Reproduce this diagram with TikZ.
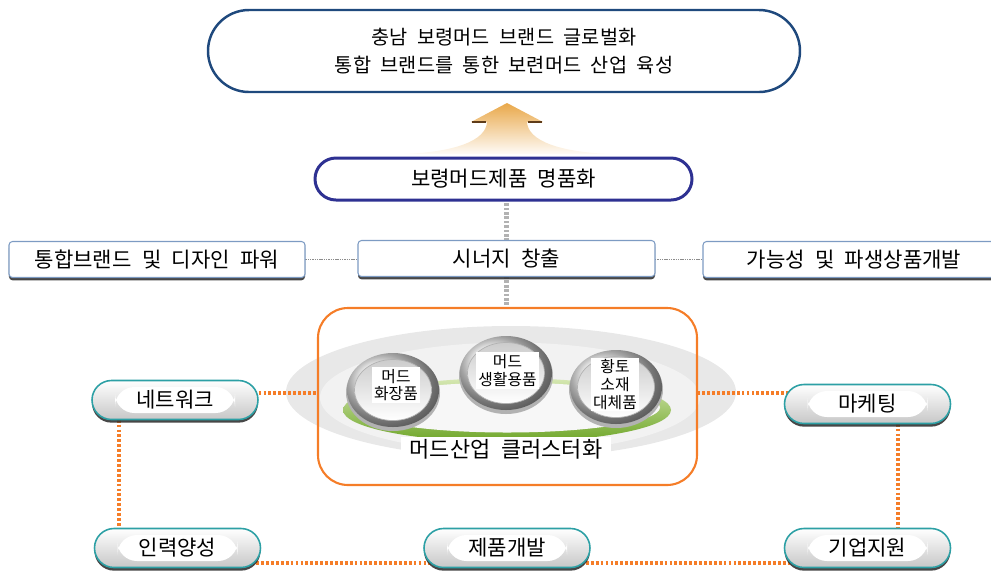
\documentclass[tikz,border=0pt]{standalone}
\usepackage{fontspec}
\setmainfont[WordSpace=2.2]{Noto Sans CJK KR}
\usetikzlibrary{shadows}

\definecolor{goalnavy}{RGB}{31,73,125}
\definecolor{brandnavy}{RGB}{46,49,146}
\definecolor{steel}{RGB}{125,155,195}
\definecolor{orangeline}{RGB}{245,125,40}
\definecolor{tealline}{RGB}{45,160,165}
\definecolor{arrowgold}{RGB}{233,168,74}
\definecolor{notch}{RGB}{95,60,25}
\definecolor{ringgreen}{RGB}{110,166,40}
\definecolor{ringlight}{RGB}{215,232,180}

\pgfdeclarelayer{background}
\pgfdeclarelayer{links}
\pgfsetlayers{background,links,main}

\begin{document}
\begin{tikzpicture}[
		every node/.style={font=\fontsize{12}{15}\selectfont},
		panel/.style={draw=steel, line width=0.6pt, rounded corners=2pt, fill=white,
				minimum height=0.72cm,
				drop shadow={shadow xshift=0pt, shadow yshift=-1.6pt, fill=black!80, opacity=0.9}},
		hub/.style={draw=tealline, line width=0.9pt, rounded corners=0.39cm,
				top color=white, bottom color=black!22,
				minimum width=3.32cm, minimum height=0.78cm,
				drop shadow={shadow xshift=0pt, shadow yshift=-1.8pt, fill=black!80, opacity=0.9},
				path picture={\fill[white] ([xshift=-1.2cm,yshift=-0.26cm]path picture bounding box.center)
						rectangle ([xshift=1.2cm,yshift=0.26cm]path picture bounding box.center);}},
		balltext/.style={fill=white, inner sep=1.2pt, align=center, font=\fontsize{9}{10}\selectfont},
		linkgray/.style={draw=black!30, line width=2.4pt, dash pattern=on 1.5pt off 1pt},
		linkthin/.style={draw=black!45, line width=0.5pt, dash pattern=on 0.8pt off 0.5pt},
		linkorange/.style={draw=orangeline, line width=2.2pt, dash pattern=on 1.6pt off 1.2pt},
	]
	\useasboundingbox (0,0) rectangle (19.82,-11.42);

	\node[draw=goalnavy, line width=1.4pt, rounded corners=0.82cm, fill=white,
		minimum width=11.84cm, minimum height=1.64cm, align=center,
		font=\fontsize{11.2}{15.5}\selectfont] (goal) at (10.08,-1.02)
		{충남 보령머드 브랜드 글로벌화\\통합 브랜드를 통한 보련머드 산업 육성};

	% golden arrow rising out of the brand box
	\shade[top color=arrowgold, bottom color=arrowgold!4]
		(10.14,-2.06) -- (10.86,-2.44) -- (10.54,-2.44)
		.. controls (10.56,-2.82) and (11.2,-3.04) .. (12.2,-3.08)
		-- (8.08,-3.08)
		.. controls (9.08,-3.04) and (9.72,-2.82) .. (9.74,-2.44)
		-- (9.42,-2.44) -- cycle;
	\draw[notch, line width=1.6pt] (9.44,-2.44) -- (9.72,-2.44) (10.56,-2.44) -- (10.84,-2.44);

	\node[draw=brandnavy, line width=1.7pt, rounded corners=0.42cm, fill=white,
		minimum width=7.54cm, minimum height=0.84cm] (brand) at (10.07,-3.58) {보령머드제품 명품화};

	\node[panel, minimum width=5.94cm] (synergy) at (10.13,-5.17) {시너지 창출};
	\node[panel, minimum width=5.92cm] (design) at (3.14,-5.19) {통합브랜드 및 디자인 파워};
	\node[panel, minimum width=6.04cm] (derive) at (17.08,-5.19) {가능성 및 파생상품개발};

	% cluster backdrop
	\begin{pgfonlayer}{background}
		\fill[black!9] (10.22,-7.84) ellipse (4.5 and 1.32);
		\fill[black!5] (10.2,-7.95) ellipse (3.8 and 1.1);
		\shade[top color=ringlight, bottom color=ringgreen] (10.14,-8.2) ellipse (3.28 and 0.64);
		\fill[black!3] (10.14,-8.15) ellipse (3.06 and 0.5);
	\end{pgfonlayer}

	\node[draw=orangeline, line width=1.2pt, rounded corners=0.6cm,
		minimum width=7.58cm, minimum height=3.54cm] (cluster) at (10.15,-7.93) {};

	\foreach \x/\y in {7.86/-7.8, 10.12/-7.46, 12.32/-7.74} {
		\fill[black!30] (\x,\y-0.05) ellipse (0.94 and 0.77);
		\shade[ball color=black!8] (\x,\y) ellipse (0.92 and 0.74);
		\shade[top color=black!20, bottom color=white, draw=black!30, line width=0.4pt] (\x,\y) ellipse (0.77 and 0.61);
	}
	\node[balltext] (cosmetic) at (7.92,-7.7) {머드\\화장품};
	\node[balltext] (daily) at (10.15,-7.41) {머드\\생활용품};
	\node[balltext] (loess) at (12.3,-7.69) {황토\\소재\\대체품};
	\node[fill=white, inner xsep=5pt, inner ysep=1pt, font=\fontsize{12.5}{15}\selectfont]
		(clusterlabel) at (10.12,-8.98) {머드산업 클러스터화};

	\node[hub] (network) at (3.5,-8.0) {네트워크};
	\node[hub] (marketing) at (17.35,-8.08) {마케팅};
	\node[hub] (manpower) at (3.55,-10.96) {인력양성};
	\node[hub] (product) at (10.14,-10.96) {제품개발};
	\node[hub] (support) at (17.35,-10.96) {기업지원};

	\begin{pgfonlayer}{links}
		\draw[linkgray] (synergy.center) -- (synergy.center |- brand.center);
		\draw[linkgray] (synergy.center) -- (synergy.center |- cluster.north);
		\draw[linkthin] (design.center) -- (derive.center);
		\draw[linkorange] ([yshift=0.14cm]network.center) -- ([yshift=0.14cm]cluster.west |- network.center);
		\draw[linkorange] ([yshift=0.22cm]marketing.center) -- ([yshift=0.22cm]cluster.east |- marketing.center);
		\draw[linkorange] ([xshift=-1.12cm]network.center) -- ([xshift=-1.12cm]network.center |- manpower.center);
		\draw[linkorange] ([xshift=0.61cm]marketing.center) -- ([xshift=0.61cm]marketing.center |- support.center);
		\draw[linkorange] ([yshift=-0.3cm]manpower.center) -- ([yshift=-0.3cm]support.center);
	\end{pgfonlayer}
\end{tikzpicture}
\end{document}
